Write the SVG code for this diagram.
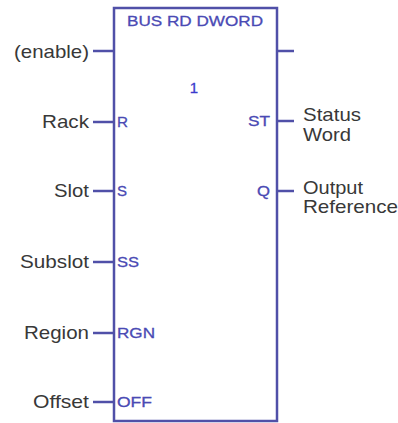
<svg xmlns="http://www.w3.org/2000/svg" width="398" height="423" viewBox="0 0 398 423">
  <style>
    .ext { font-family: "Liberation Sans", Arial, sans-serif; font-size: 19px; fill: #383838; }
    .pin { font-family: "Liberation Sans", Arial, sans-serif; font-size: 14.5px; fill: #4a4ab4; stroke: #4a4ab4; stroke-width: 0.3; }
    .ttl { font-family: "Liberation Sans", Arial, sans-serif; font-size: 15px; fill: #4a4ab4; stroke: #4a4ab4; stroke-width: 0.3; }
    .wire { stroke: #5050a8; stroke-width: 2.5; fill: none; }
  </style>
  <rect width="398" height="423" fill="#ffffff"/>
  <g id="block">
    <rect x="114" y="8" width="163" height="413" class="wire"/>
    <text class="ttl" x="127" y="26" textLength="136" lengthAdjust="spacingAndGlyphs">BUS RD DWORD</text>
    <text class="ttl" x="194" y="93" text-anchor="middle" style="fill:#3a3acc;stroke:#3a3acc">1</text>
  </g>
  <g id="connectors">
    <line class="wire" x1="93" y1="51" x2="114" y2="51"/>
    <line class="wire" x1="93" y1="122" x2="114" y2="122"/>
    <line class="wire" x1="93" y1="191" x2="114" y2="191"/>
    <line class="wire" x1="93" y1="262" x2="114" y2="262"/>
    <line class="wire" x1="93" y1="333" x2="114" y2="333"/>
    <line class="wire" x1="93" y1="402" x2="114" y2="402"/>
    <line class="wire" x1="277" y1="51" x2="294" y2="51"/>
    <line class="wire" x1="277" y1="121" x2="294" y2="121"/>
    <line class="wire" x1="277" y1="191" x2="294" y2="191"/>
  </g>
  <g id="in-enable">
    <text class="ext" x="14" y="58" textLength="75" lengthAdjust="spacingAndGlyphs">(enable)</text>
  </g>
  <g id="in-rack">
    <text class="ext" x="42" y="128" textLength="47" lengthAdjust="spacingAndGlyphs">Rack</text>
    <text class="pin" x="117" y="127" textLength="11" lengthAdjust="spacingAndGlyphs">R</text>
  </g>
  <g id="in-slot">
    <text class="ext" x="54" y="197" textLength="35" lengthAdjust="spacingAndGlyphs">Slot</text>
    <text class="pin" x="117" y="196" textLength="10" lengthAdjust="spacingAndGlyphs">S</text>
  </g>
  <g id="in-subslot">
    <text class="ext" x="20" y="268" textLength="69" lengthAdjust="spacingAndGlyphs">Subslot</text>
    <text class="pin" x="117" y="267" textLength="22" lengthAdjust="spacingAndGlyphs">SS</text>
  </g>
  <g id="in-region">
    <text class="ext" x="24" y="339" textLength="65" lengthAdjust="spacingAndGlyphs">Region</text>
    <text class="pin" x="117" y="338" textLength="38" lengthAdjust="spacingAndGlyphs">RGN</text>
  </g>
  <g id="in-offset">
    <text class="ext" x="33" y="408" textLength="56" lengthAdjust="spacingAndGlyphs">Offset</text>
    <text class="pin" x="117" y="407" textLength="35" lengthAdjust="spacingAndGlyphs">OFF</text>
  </g>
  <g id="out-st">
    <text class="pin" x="248" y="126" textLength="22" lengthAdjust="spacingAndGlyphs">ST</text>
    <text class="ext" x="303" y="121" textLength="58" lengthAdjust="spacingAndGlyphs">Status</text>
    <text class="ext" x="303" y="141" textLength="48" lengthAdjust="spacingAndGlyphs">Word</text>
  </g>
  <g id="out-q">
    <text class="pin" x="257" y="196" textLength="13" lengthAdjust="spacingAndGlyphs">Q</text>
    <text class="ext" x="303" y="194" textLength="60" lengthAdjust="spacingAndGlyphs">Output</text>
    <text class="ext" x="303" y="213" textLength="95" lengthAdjust="spacingAndGlyphs">Reference</text>
  </g>
</svg>
